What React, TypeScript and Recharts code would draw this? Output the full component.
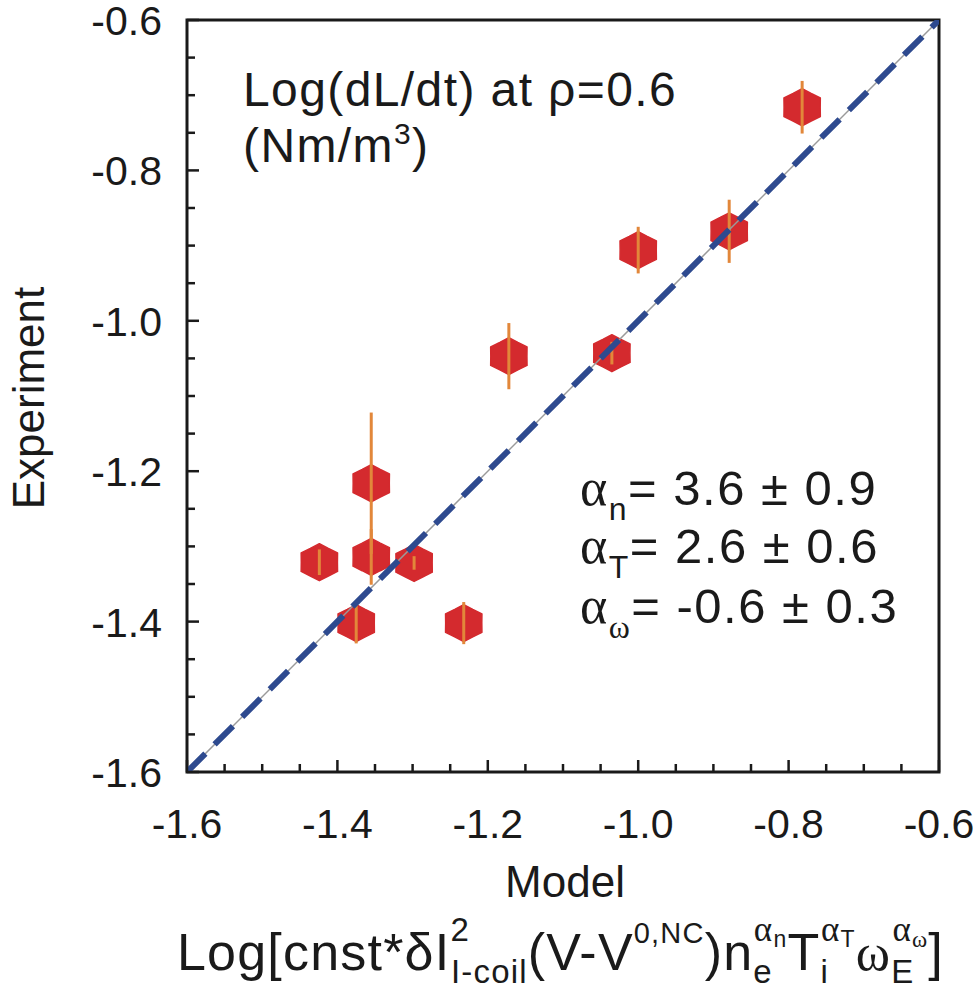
import React from "react";
import { ScatterChart, Scatter, XAxis, YAxis, ReferenceArea } from "recharts";

const modelValues = [-0.782, -0.879, -1.0, -1.035, -1.172, -1.355, -1.355, -1.424, -1.298, -1.375, -1.232];
const experimentValues = [-0.716, -0.881, -0.906, -1.043, -1.047, -1.216, -1.314, -1.321, -1.322, -1.402, -1.402];
const experimentErrors = [0.035, 0.042, 0.031, 0.015, 0.044, 0.094, 0.037, 0.017, 0.009, 0.027, 0.028];
const unityLine = [-1.6, -0.6];

const axisTicks = [
  -1.6, -1.55, -1.5, -1.45, -1.4, -1.35, -1.3, -1.25, -1.2, -1.15, -1.1,
  -1.05, -1.0, -0.95, -0.9, -0.85, -0.8, -0.75, -0.7, -0.65, -0.6,
];
const labelTicks = [-1.6, -1.4, -1.2, -1.0, -0.8, -0.6];

const points = modelValues.map((x, i) => ({ x, y: experimentValues[i] }));
// one vertical segment per point, from y-err to y+err
const errorSegments = modelValues.map((x, i) => [
  { x, y: experimentValues[i] - experimentErrors[i] },
  { x, y: experimentValues[i] + experimentErrors[i] },
]);
const fit = unityLine.map((v) => ({ x: v, y: v }));

const INK = "#1a1a1a";
const FONT = "'Liberation Sans', Arial, sans-serif";
const SERIF = "'Liberation Serif', 'DejaVu Serif', serif";

const isMajor = (v: number) => labelTicks.some((t) => Math.abs(t - v) < 1e-6);

function BottomTick({ x, y, payload }: any) {
  const major = isMajor(payload.value);
  return (
    <g>
      <line x1={x} y1={y} x2={x} y2={y - (major ? 12 : 8)} stroke={INK} strokeWidth={2.5} />
      {major && (
        <text x={x} y={y + 66} textAnchor="middle" fontSize={41} fontFamily={FONT} fill={INK}>
          {payload.value.toFixed(1)}
        </text>
      )}
    </g>
  );
}

function LeftTick({ x, y, payload }: any) {
  const major = isMajor(payload.value);
  return (
    <g>
      <line x1={x} y1={y} x2={x + (major ? 12 : 8)} y2={y} stroke={INK} strokeWidth={2.5} />
      {major && (
        <text x={x - 25} y={y + 15} textAnchor="end" fontSize={41} fontFamily={FONT} fill={INK}>
          {payload.value.toFixed(1)}
        </text>
      )}
    </g>
  );
}

function TopTick({ x, y, payload }: any) {
  const major = isMajor(payload.value);
  return <line x1={x} y1={y} x2={x} y2={y + (major ? 12 : 8)} stroke={INK} strokeWidth={2.5} />;
}

function RightTick({ x, y, payload }: any) {
  const major = isMajor(payload.value);
  return <line x1={x} y1={y} x2={x - (major ? 12 : 8)} y2={y} stroke={INK} strokeWidth={2.5} />;
}

function Marker({ cx, cy }: any) {
  const pts: string[] = [];
  for (let k = 0; k < 12; k++) {
    const a = -Math.PI / 2 + (k * Math.PI) / 6;
    const r = k % 2 === 0 ? 1 : 0.86;
    pts.push(`${cx + 21 * r * Math.cos(a)},${cy + 18.5 * r * Math.sin(a)}`);
  }
  return <polygon points={pts.join(" ")} fill="#d42a2e" stroke="#d42a2e" strokeWidth={1.5} strokeLinejoin="round" />;
}

const Empty = () => <g />;

export default function App() {
  return (
    <div style={{ position: "absolute", left: 0, top: 0, width: 973, height: 990, background: "#fff" }}>
      <ScatterChart width={973} height={990} margin={{ top: 20, right: 34, bottom: 0, left: 0 }}>
        <XAxis
          xAxisId="b"
          type="number"
          dataKey="x"
          domain={[-1.6, -0.6]}
          ticks={axisTicks}
          interval={0}
          height={218}
          tickSize={0}
          tickMargin={0}
          tickLine={false}
          axisLine={false}
          tick={BottomTick}
          allowDataOverflow
        />
        <XAxis
          xAxisId="t"
          orientation="top"
          type="number"
          dataKey="x"
          domain={[-1.6, -0.6]}
          ticks={axisTicks}
          interval={0}
          height={0}
          tickSize={0}
          tickMargin={0}
          tickLine={false}
          axisLine={false}
          tick={TopTick}
          allowDataOverflow
        />
        <YAxis
          yAxisId="l"
          type="number"
          dataKey="y"
          domain={[-1.6, -0.6]}
          ticks={axisTicks}
          interval={0}
          width={187}
          tickSize={0}
          tickMargin={0}
          tickLine={false}
          axisLine={false}
          tick={LeftTick}
          allowDataOverflow
        />
        <YAxis
          yAxisId="r"
          orientation="right"
          type="number"
          dataKey="y"
          domain={[-1.6, -0.6]}
          ticks={axisTicks}
          interval={0}
          width={0}
          tickSize={0}
          tickMargin={0}
          tickLine={false}
          axisLine={false}
          tick={RightTick}
          allowDataOverflow
        />
        <ReferenceArea
          xAxisId="b"
          yAxisId="l"
          x1={-1.6}
          x2={-0.6}
          y1={-1.6}
          y2={-0.6}
          fill="none"
          fillOpacity={0}
          stroke={INK}
          strokeWidth={3}
          ifOverflow="visible"
        />
        <Scatter xAxisId="b" yAxisId="l" data={points} shape={Marker} isAnimationActive={false} />
        {errorSegments.map((seg, i) => (
          <Scatter
            key={i}
            xAxisId="b"
            yAxisId="l"
            data={seg}
            shape={Empty}
            line={{ stroke: "#e2873a", strokeWidth: 3 }}
            isAnimationActive={false}
          />
        ))}
        <Scatter
          xAxisId="t"
          yAxisId="r"
          data={fit}
          shape={Empty}
          line={{ stroke: "#9a9a9a", strokeWidth: 1.5 }}
          isAnimationActive={false}
        />
        <Scatter
          xAxisId="b"
          yAxisId="l"
          data={fit}
          shape={Empty}
          line={{ stroke: "#2e4a8f", strokeWidth: 6, strokeDasharray: "26 13" }}
          isAnimationActive={false}
        />
      </ScatterChart>
      <svg
        width={973}
        height={990}
        style={{ position: "absolute", left: 0, top: 0, pointerEvents: "none" }}
        fontFamily={FONT}
        fill={INK}
      >
        <text x={243} y={106} fontSize={48} letterSpacing={1.4}>Log(dL/dt) at ρ=0.6</text>
        <text x={243} y={162} fontSize={48} letterSpacing={1.4}>
          (Nm/m<tspan fontSize={30} dy={-18}>3</tspan>
          <tspan dy={18}>)</tspan>
        </text>

        <text x={580} y={505} fontSize={49} letterSpacing={1.5}>
          <tspan fontFamily={SERIF} fontSize={52}>α</tspan>
          <tspan fontSize={32} dy={15}>n</tspan>
          <tspan dy={-15}>= 3.6 ± 0.9</tspan>
        </text>
        <text x={580} y={563} fontSize={49} letterSpacing={1.5}>
          <tspan fontFamily={SERIF} fontSize={52}>α</tspan>
          <tspan fontSize={32} dy={15}>T</tspan>
          <tspan dy={-15}>= 2.6 ± 0.6</tspan>
        </text>
        <text x={580} y={623} fontSize={49} letterSpacing={1.5}>
          <tspan fontFamily={SERIF} fontSize={52}>α</tspan>
          <tspan fontFamily={SERIF} fontSize={32} dy={15}>ω</tspan>
          <tspan dy={-15}>= -0.6 ± 0.3</tspan>
        </text>

        <text x={44} y={398} fontSize={44} textAnchor="middle" transform="rotate(-90 44 398)">
          Experiment
        </text>
        <text x={565} y={897} fontSize={44} textAnchor="middle">
          Model
        </text>

        <text x={177} y={970} fontSize={52} letterSpacing={1.2}>
          Log[cnst*δI
          <tspan fontSize={33} dy={-29}>2</tspan>
          <tspan fontSize={33} dx={-19} dy={42}>I-coil</tspan>
          <tspan dy={-13}>(V-V</tspan>
          <tspan fontSize={29} fontFamily="'Liberation Sans Narrow', 'Liberation Sans', sans-serif" dy={-27}>0,NC</tspan>
          <tspan dy={27}>)n</tspan>
          <tspan fontSize={33} dy={13}>e</tspan>
          <tspan fontSize={35} fontFamily={SERIF} dx={-19} dy={-42}>α</tspan>
          <tspan fontSize={23} dy={6}>n</tspan>
          <tspan dy={23}>T</tspan>
          <tspan fontSize={33} dy={13}>i</tspan>
          <tspan fontSize={35} fontFamily={SERIF} dx={-8} dy={-42}>α</tspan>
          <tspan fontSize={23} dy={6}>T</tspan>
          <tspan fontFamily={SERIF} dy={23}>ω</tspan>
          <tspan fontSize={33} dy={13}>E</tspan>
          <tspan fontSize={35} fontFamily={SERIF} dx={-22} dy={-42}>α</tspan>
          <tspan fontSize={23} fontFamily={SERIF} dy={6}>ω</tspan>
          <tspan dy={23}>]</tspan>
        </text>
      </svg>
    </div>
  );
}
